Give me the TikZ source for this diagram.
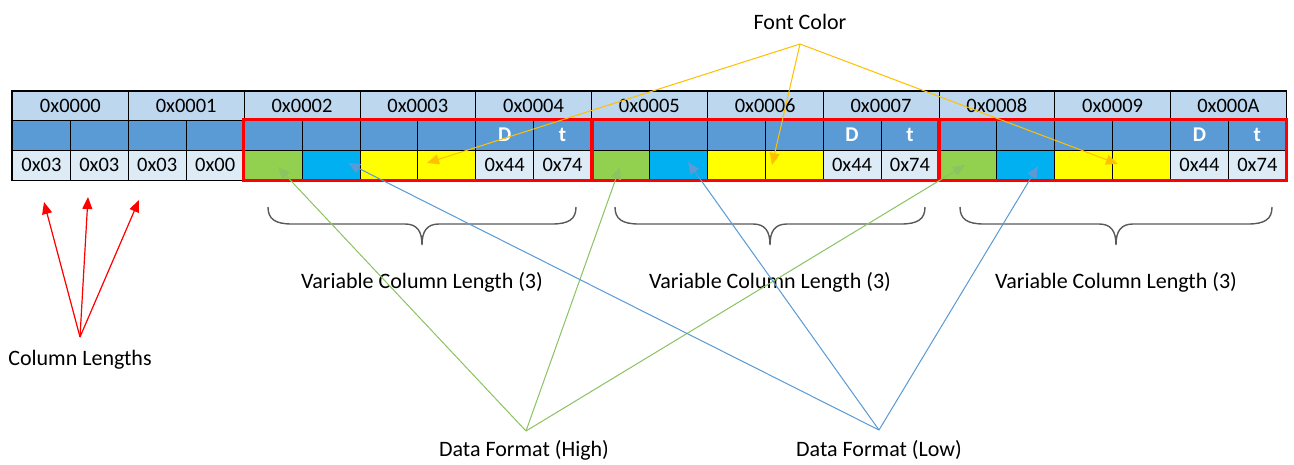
\documentclass[tikz,border=0pt]{standalone}
\usepackage{fontspec}
\setmainfont{Carlito}
\usetikzlibrary{arrows.meta}
\definecolor{hdr}{HTML}{BDD7EE}
\definecolor{midb}{HTML}{5B9BD5}
\definecolor{valb}{HTML}{DDEBF7}
\definecolor{grn}{HTML}{92D050}
\definecolor{cyn}{HTML}{00B0F0}
\definecolor{ylw}{HTML}{FFFF00}
\definecolor{lgrn}{HTML}{8CC363}
\definecolor{lblu}{HTML}{5B9BD5}
\definecolor{gold}{HTML}{FFC000}
\definecolor{brc}{HTML}{595959}
\newcommand\mybrace[2]{%
  \draw[bracestyle] (#1,207) .. controls (#1,219) and ({#1+7},224) .. ({#1+24},224)
    -- ({(#1+#2)/2-17},224) .. controls ({(#1+#2)/2-5},224) and ({(#1+#2)/2},231) .. ({(#1+#2)/2},245)
    .. controls ({(#1+#2)/2},231) and ({(#1+#2)/2+5},224) .. ({(#1+#2)/2+17},224)
    -- ({#2-24},224) .. controls ({#2-7},224) and (#2,219) .. (#2,207);}
\begin{document}
\begin{tikzpicture}[x=1pt,y=-1pt,
  cellbase/.style={draw=black, line width=0.8pt, inner sep=0pt, font=\fontsize{20.5}{24}\selectfont},
  hcell/.style={cellbase, fill=hdr, minimum width=115.8pt, minimum height=28.5pt},
  mcell/.style={cellbase, fill=midb, minimum width=57.9pt, minimum height=30pt, text=white, font=\fontsize{21}{24}\selectfont\bfseries},
  vcell/.style={cellbase, minimum width=57.9pt, minimum height=30pt},
  redbox/.style={draw=red, line width=3.2pt},
  lbl/.style={font=\fontsize{22}{26}\selectfont, anchor=base, inner sep=0pt},
  bracestyle/.style={draw=brc, line width=1.4pt},
  tip/.style={-{Triangle[length=12pt,width=10pt]}, line width=1pt},
  garrow/.style={tip, draw=lgrn, fill=lgrn},
  barrow/.style={tip, draw=lblu, fill=lblu},
  oarrow/.style={tip, draw=gold, fill=gold},
  rarrow/.style={tip, draw=red, fill=red, line width=1.2pt}]
\useasboundingbox (0,0) rectangle (1294,464);
% row 1
\foreach \i/\t in {0/0000,1/0001,2/0002,3/0003,4/0004,5/0005,6/0006,7/0007,8/0008,9/0009,10/000A}
  \node[hcell] (h\i) at ({12.5+115.8*(\i+0.5)},105.75) {0x\t};
% row 2
\foreach \j in {0,1,2,3,4,5,6,7,10,11,12,13,16,17,18,19}
  \node[mcell] (m\j) at ({12.5+57.9*(\j+0.5)},135) {};
\foreach \j/\t in {8/D,9/t,14/D,15/t,20/D,21/t}
  \node[mcell] (m\j) at ({12.5+57.9*(\j+0.5)},135) {\t};
% row 3
\foreach \j/\f/\t in {0/valb/0x03,1/valb/0x03,2/valb/0x03,3/valb/0x00,
  4/grn/{},5/cyn/{},6/ylw/{},7/ylw/{},8/valb/0x44,9/valb/0x74,
  10/grn/{},11/cyn/{},12/ylw/{},13/ylw/{},14/valb/0x44,15/valb/0x74,
  16/grn/{},17/cyn/{},18/ylw/{},19/ylw/{},20/valb/0x44,21/valb/0x74}
  \node[vcell, fill=\f] (v\j) at ({12.5+57.9*(\j+0.5)},165) {\t};
% outer border
\draw[line width=1.4pt] (h0.north west) rectangle (v21.south east);
% red boxes
\draw[redbox] (m4.north west) rectangle (v9.south east);
\draw[redbox] (m10.north west) rectangle (v15.south east);
\draw[redbox] (m16.north west) rectangle (v21.south east);
% braces
\mybrace{268}{576}
\mybrace{615}{925}
\mybrace{960}{1272}
% labels
\node[lbl] (fc) at (800,29) {Font Color};
\node[lbl] (cl) at (80,365) {Column Lengths};
\node[lbl] (vl1) at (422,288) {Variable Column Length (3)};
\node[lbl] (vl2) at (770,288) {Variable Column Length (3)};
\node[lbl] (vl3) at (1116,288) {Variable Column Length (3)};
\node[lbl] (dfh) at (524,456) {Data Format (High)};
\node[lbl] (dfl) at (879,456) {Data Format (Low)};
% apex coordinates
\coordinate (fca) at (800,44);
\coordinate (cla) at (80,337);
\coordinate (dfha) at (526,431);
\coordinate (dfla) at (879,430);
% tip coordinates
\coordinate (o1) at (427,163);
\coordinate (o2) at (772,165);
\coordinate (o3) at (1118,164);
\coordinate (g1) at (278,167);
\coordinate (g2) at (620,167);
\coordinate (g3) at (965,165);
\coordinate (b1) at (348,163);
\coordinate (b2) at (688,162);
\coordinate (b3) at (1038,166);
\coordinate (r1) at (44,202);
\coordinate (r2) at (88,197);
\coordinate (r3) at (139,200);
% connectors
\foreach \t in {o1,o2,o3} \draw[oarrow] (fca) -- (\t);
\foreach \t in {g1,g2,g3} \draw[garrow] (dfha) -- (\t);
\foreach \t in {b1,b2,b3} \draw[barrow] (dfla) -- (\t);
\foreach \t in {r1,r2,r3} \draw[rarrow] (cla) -- (\t);
\end{tikzpicture}
\end{document}
